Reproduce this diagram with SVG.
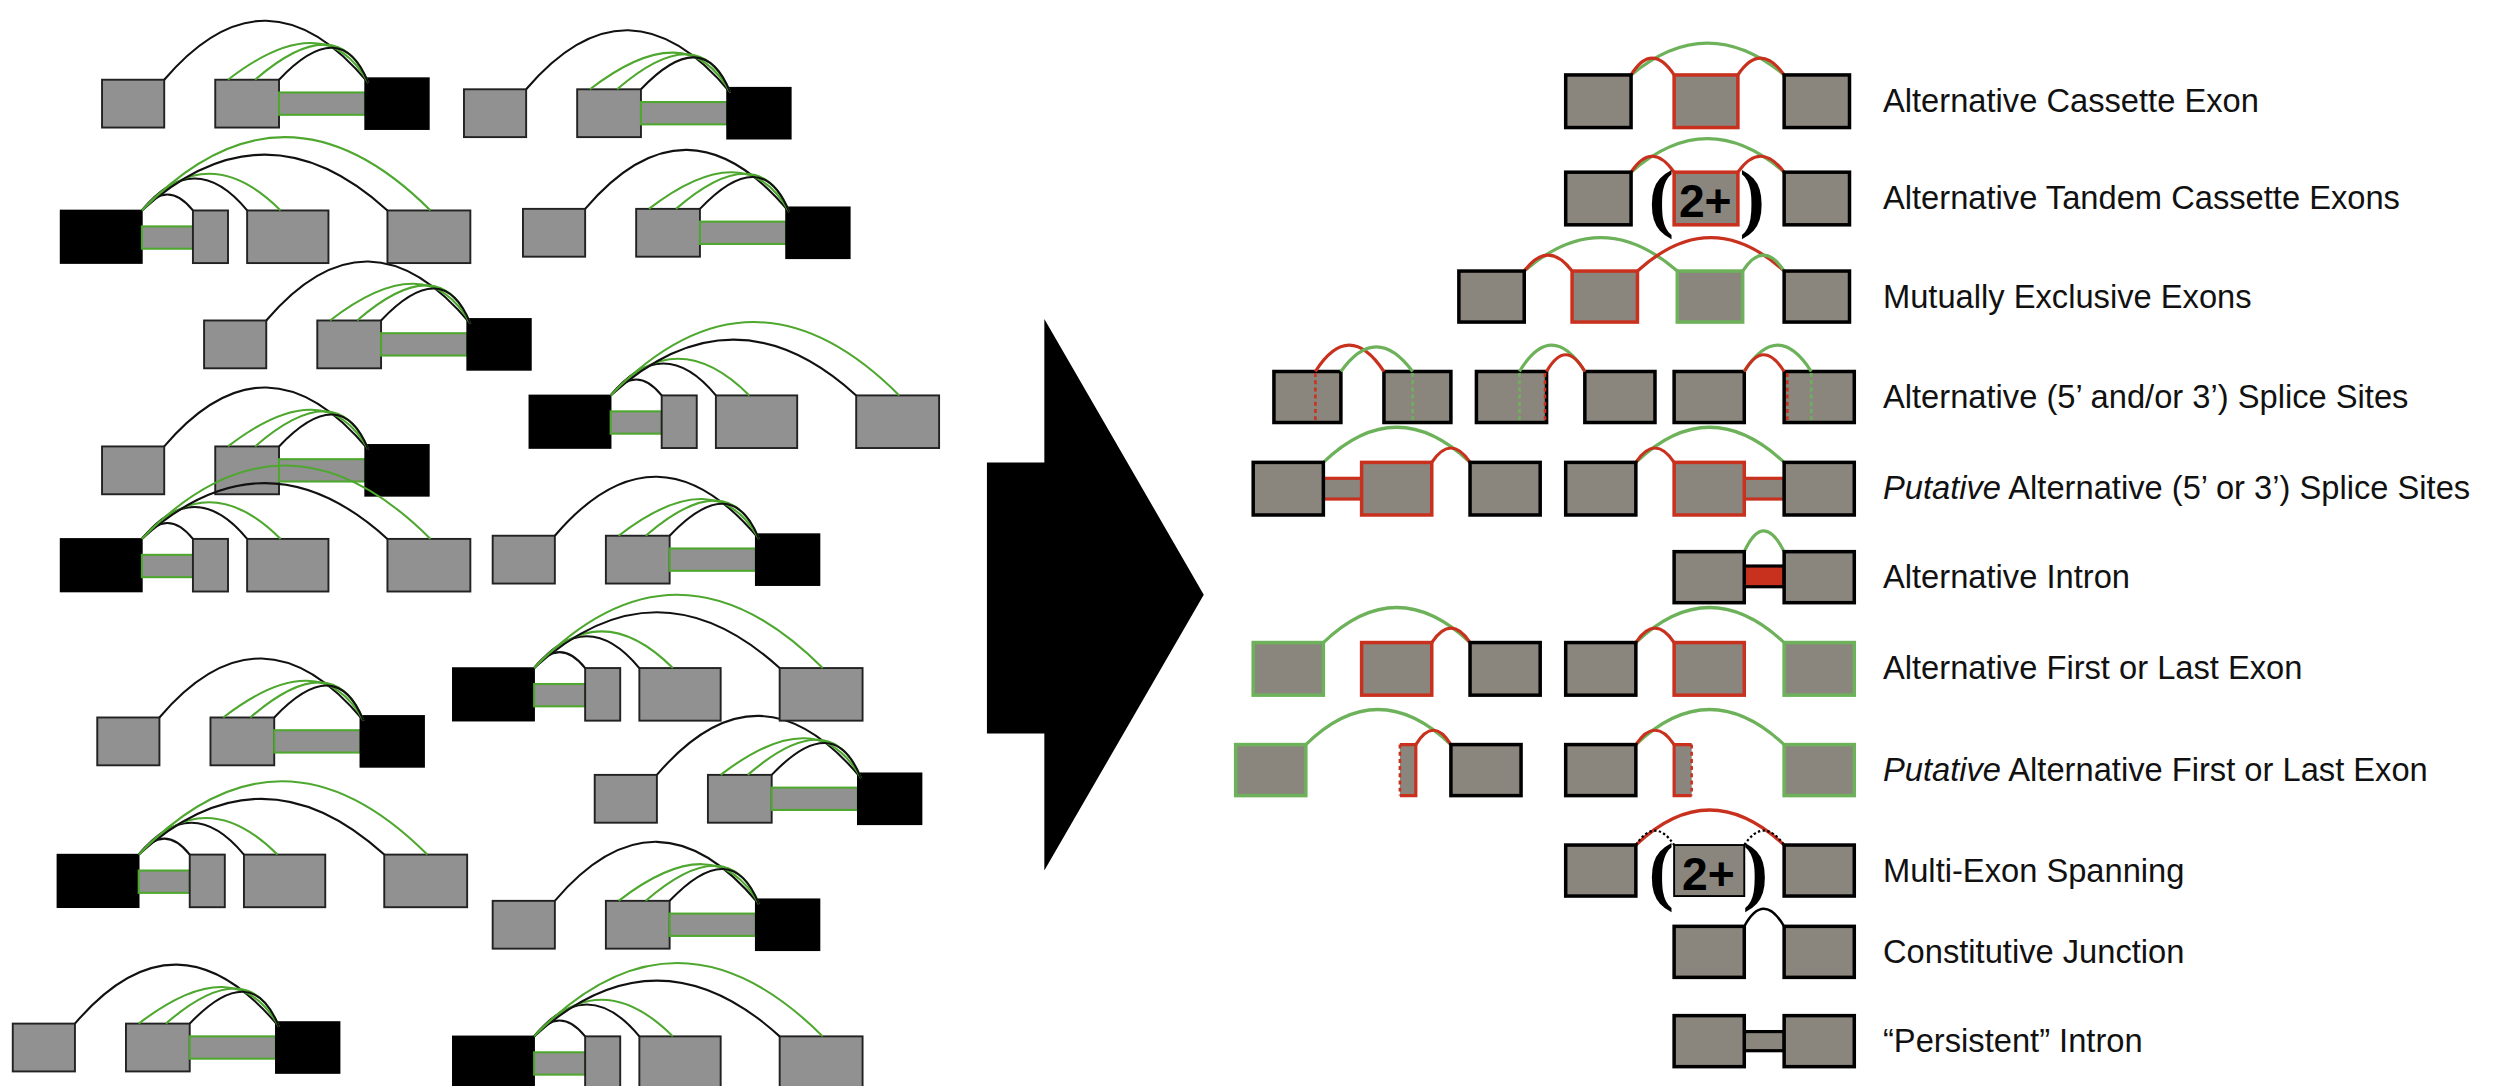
<svg xmlns="http://www.w3.org/2000/svg" xmlns:xlink="http://www.w3.org/1999/xlink" width="2500" height="1086" viewBox="0 0 2500 1086">
<style>
.lb{fill:#919191;stroke:#222;stroke-width:1.2}
.lk{fill:#000;stroke:#000;stroke-width:1}
.li{fill:#919191;stroke:#4ea72e;stroke-width:1.3}
.la{fill:none;stroke:#111;stroke-width:1.3}
.lg{fill:none;stroke:#4ea72e;stroke-width:1.3}
.rb{fill:#8a867e;stroke:#000;stroke-width:2.2}
.rr{fill:#8a867e;stroke:#c9311f;stroke-width:2.2}
.rg{fill:#8a867e;stroke:#6db25a;stroke-width:2.2}
.ag{fill:none;stroke:#6db25a;stroke-width:2}
.ar{fill:none;stroke:#c9311f;stroke-width:2}
.ak{fill:none;stroke:#000;stroke-width:1.6}
.dr{stroke:#c9311f;stroke-width:1.6;stroke-dasharray:2.5 2}
.dg{stroke:#6db25a;stroke-width:1.6;stroke-dasharray:2.5 2}
.t{font-family:"Liberation Sans",Arial,sans-serif;font-size:20.5px;fill:#111}
.pp{font-family:"Liberation Serif",serif;font-size:48px;font-weight:bold}
.nn{font-family:"Liberation Sans Narrow","Liberation Sans",sans-serif;font-size:29px;font-weight:bold}
</style>
<defs>
<g id="mA">
<rect class="lb" x="0" y="0" width="39" height="30"/>
<rect class="lb" x="71" y="0" width="40" height="30"/>
<rect class="li" x="111" y="8" width="54" height="14"/>
<rect class="lk" x="165" y="-1" width="40" height="32"/>
<path class="la" d="M39,0 Q103,-75 167,2"/>
<path class="lg" d="M79,0 Q140,-47 167,2"/>
<path class="lg" d="M96,0 Q148,-45 167,2"/>
<path class="la" d="M111,0 Q150,-41 167,2"/>
</g>
<g id="mB">
<rect class="lk" x="0" y="0" width="51" height="33"/>
<rect class="li" x="51" y="10" width="32" height="14"/>
<rect class="lb" x="83" y="0" width="22" height="33"/>
<rect class="lb" x="117" y="0" width="51" height="33"/>
<rect class="lb" x="205" y="0" width="52" height="33"/>
<path class="la" d="M51,0 Q67,-20 83,0"/>
<path class="la" d="M51,0 Q84,-40 117,0"/>
<path class="lg" d="M51,0 Q92,-46 138,0"/>
<path class="la" d="M51,0 Q128,-70 205,0"/>
<path class="lg" d="M51,0 Q140,-92 232,0"/>
</g>
</defs>
<rect width="2500" height="1086" fill="#fff"/>
<g transform="scale(1.5944)">
<g id="left-motifs">
<use xlink:href="#mA" x="64" y="50"/>
<use xlink:href="#mA" x="291" y="56"/>
<use xlink:href="#mA" x="328" y="131"/>
<use xlink:href="#mA" x="128" y="201"/>
<use xlink:href="#mA" x="64" y="280"/>
<use xlink:href="#mA" x="309" y="336"/>
<use xlink:href="#mA" x="61" y="450"/>
<use xlink:href="#mA" x="373" y="486"/>
<use xlink:href="#mA" x="309" y="565"/>
<use xlink:href="#mA" x="8" y="642"/>
<use xlink:href="#mB" x="38" y="132"/>
<use xlink:href="#mB" x="332" y="248"/>
<use xlink:href="#mB" x="38" y="338"/>
<use xlink:href="#mB" x="284" y="419"/>
<use xlink:href="#mB" x="36" y="536"/>
<use xlink:href="#mB" x="284" y="650"/>
</g>
<g id="arrow"><polygon points="619,290 655,290 655,200 755,373 655,546 655,460 619,460" fill="#000"/></g>

<g id="r1">
<path class="ag" d="M1023,47 Q1071,7 1119,47"/>
<path class="ar" d="M1023,47 Q1036,26 1050,47"/>
<path class="ar" d="M1090,47 Q1104,26 1119,47"/>
<rect class="rb" x="982" y="47" width="41" height="33"/>
<rect class="rr" x="1050" y="47" width="40" height="33"/>
<rect class="rb" x="1119" y="47" width="41" height="33"/>
<text class="t" x="1181" y="70">Alternative Cassette Exon</text>
</g>
<g id="r2">
<path class="ag" d="M1023,108 Q1071,66 1119,108"/>
<path class="ar" d="M1023,108 Q1036,88 1050,108"/>
<path class="ar" d="M1090,108 Q1104,88 1119,108"/>
<rect class="rb" x="982" y="108" width="41" height="33"/>
<rect class="rr" x="1050" y="108" width="40" height="33"/>
<rect class="rb" x="1119" y="108" width="41" height="33"/>
<text fill="#000"><tspan class="pp" x="1034" y="140">(</tspan><tspan class="nn" x="1053" y="136">2+</tspan><tspan class="pp" x="1091" y="140">)</tspan></text>
<text class="t" x="1181" y="131">Alternative Tandem Cassette Exons</text>
</g>
<g id="r3">
<path class="ag" d="M956,170 Q1004,128 1052,170"/>
<path class="ar" d="M1027,170 Q1073,128 1119,170"/>
<path class="ar" d="M956,170 Q971,150 986,170"/>
<path class="ag" d="M1093,170 Q1106,150 1119,170"/>
<rect class="rb" x="915" y="170" width="41" height="32"/>
<rect class="rr" x="986" y="170" width="41" height="32"/>
<rect class="rg" x="1052" y="170" width="41" height="32"/>
<rect class="rb" x="1119" y="170" width="41" height="32"/>
<text class="t" x="1181" y="193">Mutually Exclusive Exons</text>
</g>
<g id="r4">
<rect class="rb" x="799" y="233" width="42" height="32"/>
<rect class="rb" x="868" y="233" width="42" height="32"/>
<line class="dr" x1="825" y1="234" x2="825" y2="264"/>
<line class="dg" x1="886" y1="234" x2="886" y2="264"/>
<path class="ar" d="M825,233 Q846,200 868,233"/>
<path class="ag" d="M841,233 Q863,202 886,233"/>
<rect class="rb" x="926" y="233" width="44" height="32"/>
<rect class="rb" x="994" y="233" width="44" height="32"/>
<line class="dg" x1="953" y1="234" x2="953" y2="264"/>
<line class="dr" x1="969" y1="234" x2="969" y2="264"/>
<path class="ag" d="M953,233 Q973,200 994,233"/>
<path class="ar" d="M970,233 Q982,212 994,233"/>
<rect class="rb" x="1050" y="233" width="44" height="32"/>
<rect class="rb" x="1119" y="233" width="44" height="32"/>
<line class="dr" x1="1121" y1="234" x2="1121" y2="264"/>
<line class="dg" x1="1136" y1="234" x2="1136" y2="264"/>
<path class="ag" d="M1094,233 Q1115,200 1136,233"/>
<path class="ar" d="M1094,233 Q1106,212 1119,233"/>
<text class="t" x="1181" y="256">Alternative (5’ and/or 3’) Splice Sites</text>
</g>
<g id="r5">
<path class="ag" d="M830,290 Q876,246 922,290"/>
<path class="ar" d="M898,290 Q910,272 922,290"/>
<rect x="830" y="300" width="24" height="13" fill="#8a867e" stroke="#c9311f" stroke-width="2"/>
<rect class="rb" x="786" y="290" width="44" height="33"/>
<rect class="rr" x="854" y="290" width="44" height="33"/>
<rect class="rb" x="922" y="290" width="44" height="33"/>
<path class="ag" d="M1026,290 Q1072,246 1119,290"/>
<path class="ar" d="M1026,290 Q1038,272 1050,290"/>
<rect x="1094" y="300" width="25" height="13" fill="#8a867e" stroke="#c9311f" stroke-width="2"/>
<rect class="rb" x="982" y="290" width="44" height="33"/>
<rect class="rr" x="1050" y="290" width="44" height="33"/>
<rect class="rb" x="1119" y="290" width="44" height="33"/>
<text class="t" x="1181" y="313"><tspan font-style="italic">Putative</tspan> Alternative (5’ or 3’) Splice Sites</text>
</g>
<g id="r6">
<path class="ag" d="M1094,346 Q1106,320 1119,346"/>
<rect x="1094" y="355" width="25" height="13" fill="#c9311f" stroke="#000" stroke-width="2"/>
<rect class="rb" x="1050" y="346" width="44" height="32"/>
<rect class="rb" x="1119" y="346" width="44" height="32"/>
<text class="t" x="1181" y="369">Alternative Intron</text>
</g>
<g id="r7">
<path class="ag" d="M830,403 Q876,359 922,403"/>
<path class="ar" d="M898,403 Q910,385 922,403"/>
<rect class="rg" x="786" y="403" width="44" height="33"/>
<rect class="rr" x="854" y="403" width="44" height="33"/>
<rect class="rb" x="922" y="403" width="44" height="33"/>
<path class="ag" d="M1026,403 Q1072,359 1119,403"/>
<path class="ar" d="M1026,403 Q1038,385 1050,403"/>
<rect class="rb" x="982" y="403" width="44" height="33"/>
<rect class="rr" x="1050" y="403" width="44" height="33"/>
<rect class="rg" x="1119" y="403" width="44" height="33"/>
<text class="t" x="1181" y="426">Alternative First or Last Exon</text>
</g>
<g id="r8">
<path class="ag" d="M819,467 Q864,423 910,467"/>
<path class="ar" d="M888,467 Q899,449 910,467"/>
<rect class="rg" x="775" y="467" width="44" height="32"/>
<rect x="878" y="467" width="10" height="32" fill="#8a867e"/>
<path class="ar" d="M878,467 H888 V499 H878"/>
<line class="dr" x1="878" y1="467" x2="878" y2="499"/>
<rect class="rb" x="910" y="467" width="44" height="32"/>
<path class="ag" d="M1026,467 Q1072,423 1119,467"/>
<path class="ar" d="M1026,467 Q1038,449 1050,467"/>
<rect class="rb" x="982" y="467" width="44" height="32"/>
<rect x="1050" y="467" width="11" height="32" fill="#8a867e"/>
<path class="ar" d="M1061,467 H1050 V499 H1061"/>
<line class="dr" x1="1061" y1="467" x2="1061" y2="499"/>
<rect class="rg" x="1119" y="467" width="44" height="32"/>
<text class="t" x="1181" y="490"><tspan font-style="italic">Putative</tspan> Alternative First or Last Exon</text>
</g>
<g id="r9">
<path class="ar" d="M1026,530 Q1072,486 1119,530"/>
<path d="M1026,530 Q1038,512 1050,530" fill="none" stroke="#000" stroke-width="1.4" stroke-dasharray="1.5 1.5"/>
<path d="M1094,530 Q1106,512 1119,530" fill="none" stroke="#000" stroke-width="1.4" stroke-dasharray="1.5 1.5"/>
<rect class="rb" x="982" y="530" width="44" height="32"/>
<rect x="1050" y="530" width="44" height="32" fill="#8a867e" stroke="#000" stroke-width="1.2"/>
<rect class="rb" x="1119" y="530" width="44" height="32"/>
<text fill="#000"><tspan class="pp" x="1034" y="562">(</tspan><tspan class="nn" x="1055" y="558">2+</tspan><tspan class="pp" x="1093" y="562">)</tspan></text>
<text class="t" x="1181" y="553">Multi-Exon Spanning</text>
</g>
<g id="r10">
<path class="ak" d="M1094,581 Q1106,559 1119,581"/>
<rect class="rb" x="1050" y="581" width="44" height="32"/>
<rect class="rb" x="1119" y="581" width="44" height="32"/>
<text class="t" x="1181" y="604">Constitutive Junction</text>
</g>
<g id="r11">
<rect x="1094" y="647" width="25" height="12" fill="#8a867e" stroke="#000" stroke-width="2"/>
<rect class="rb" x="1050" y="637" width="44" height="32"/>
<rect class="rb" x="1119" y="637" width="44" height="32"/>
<text class="t" x="1181" y="660">“Persistent” Intron</text>
</g>
</g>
</svg>
